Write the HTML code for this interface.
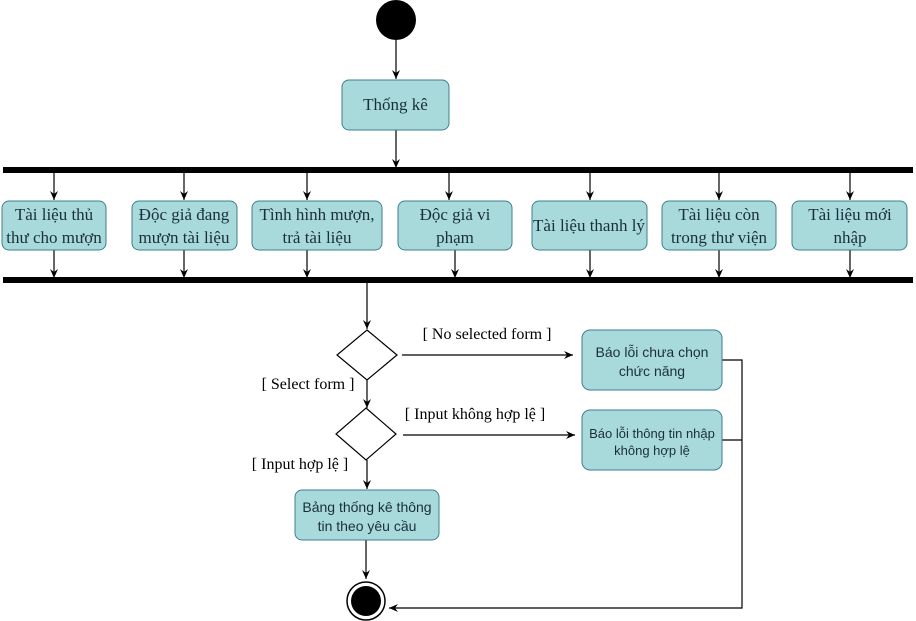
<!DOCTYPE html>
<html><head><meta charset="utf-8"><style>
html,body{margin:0;padding:0;background:#fff;}
svg{display:block}
.s{font-family:"Liberation Serif",serif;font-size:17px;fill:#1a2e3a}
.a{font-family:"Liberation Sans",sans-serif;font-size:14px;fill:#1a2e3a}
.l{font-family:"Liberation Serif",serif;font-size:16px;fill:#000}
.b{fill:#a8dadc;stroke:#3f7f8c;stroke-width:1}
</style></head><body>
<svg width="916" height="621" viewBox="0 0 916 621">
<defs><marker id="ar" markerWidth="10" markerHeight="10" refX="9" refY="5" orient="auto" markerUnits="userSpaceOnUse"><path d="M0,1 L9,5 L0,9 L3,5 Z" fill="#000"/></marker></defs>
<g stroke="#000" stroke-width="1.2" fill="none">
<line x1="396" y1="40" x2="396" y2="79" marker-end="url(#ar)"/>
<line x1="396" y1="130" x2="396" y2="168" marker-end="url(#ar)"/>
<line x1="54" y1="173" x2="54" y2="200" marker-end="url(#ar)"/>
<line x1="184" y1="173" x2="184" y2="200" marker-end="url(#ar)"/>
<line x1="307" y1="173" x2="307" y2="200" marker-end="url(#ar)"/>
<line x1="449" y1="173" x2="449" y2="200" marker-end="url(#ar)"/>
<line x1="590" y1="173" x2="590" y2="200" marker-end="url(#ar)"/>
<line x1="719" y1="173" x2="719" y2="200" marker-end="url(#ar)"/>
<line x1="850" y1="173" x2="850" y2="200" marker-end="url(#ar)"/>
<line x1="54" y1="250" x2="54" y2="278" marker-end="url(#ar)"/>
<line x1="184" y1="250" x2="184" y2="278" marker-end="url(#ar)"/>
<line x1="307" y1="250" x2="307" y2="278" marker-end="url(#ar)"/>
<line x1="455" y1="250" x2="455" y2="278" marker-end="url(#ar)"/>
<line x1="590" y1="250" x2="590" y2="278" marker-end="url(#ar)"/>
<line x1="719" y1="250" x2="719" y2="278" marker-end="url(#ar)"/>
<line x1="850" y1="250" x2="850" y2="278" marker-end="url(#ar)"/>
<line x1="367" y1="283" x2="367" y2="329" marker-end="url(#ar)"/>
<line x1="402" y1="355" x2="573" y2="355" marker-end="url(#ar)"/>
<line x1="367" y1="380" x2="367" y2="408" marker-end="url(#ar)"/>
<line x1="403" y1="435" x2="575" y2="435" marker-end="url(#ar)"/>
<line x1="367" y1="460" x2="367" y2="489" marker-end="url(#ar)"/>
<line x1="366" y1="540" x2="366" y2="579" marker-end="url(#ar)"/>
<polyline points="722,360 742,360 742,608 389,608" marker-end="url(#ar)"/>
<line x1="722" y1="440" x2="742" y2="440"/>
</g>
<circle cx="396" cy="20" r="20" fill="#000"/>
<rect x="3" y="167" width="910" height="6" fill="#000"/>
<rect x="3" y="277" width="910" height="6" fill="#000"/>
<rect class="b" x="342" y="80" width="107" height="50" rx="7"/>
<text class="s" x="395.5" y="110" text-anchor="middle">Thống kê</text>
<rect class="b" x="2" y="201" width="104" height="49" rx="7"/>
<rect class="b" x="132" y="201" width="105" height="49" rx="7"/>
<rect class="b" x="252" y="201" width="130" height="49" rx="7"/>
<rect class="b" x="398" y="201" width="114" height="49" rx="7"/>
<rect class="b" x="532" y="201" width="115" height="49" rx="7"/>
<rect class="b" x="662" y="201" width="114" height="49" rx="7"/>
<rect class="b" x="792" y="201" width="115" height="49" rx="7"/>
<g class="s" text-anchor="middle">
<text x="54" y="220">Tài liệu thủ</text><text x="54" y="243">thư cho mượn</text>
<text x="184" y="220">Độc giả đang</text><text x="184" y="243">mượn tài liệu</text>
<text x="317" y="220">Tình hình mượn,</text><text x="317" y="243">trả tài liệu</text>
<text x="455" y="220">Độc giả vi</text><text x="455" y="243">phạm</text>
<text x="589" y="231">Tài liệu thanh lý</text>
<text x="719" y="220">Tài liệu còn</text><text x="719" y="243">trong thư viện</text>
<text x="850" y="220">Tài liệu mới</text><text x="850" y="243">nhập</text>
</g>
<polygon points="367,330 397,355 367,380 337,355" fill="#fff" stroke="#000" stroke-width="1.2"/>
<polygon points="366,408 396,434 366,460 336,434" fill="#fff" stroke="#000" stroke-width="1.2"/>
<rect class="b" x="582" y="330" width="140" height="60" rx="8"/>
<rect class="b" x="582" y="410" width="140" height="60" rx="8"/>
<rect class="b" x="295" y="490" width="144" height="50" rx="7"/>
<g class="a" text-anchor="middle">
<text x="652" y="357">Báo lỗi chưa chọn</text><text x="652" y="376">chức năng</text>
<text x="652" y="438" font-size="13">Báo lỗi thông tin nhập</text><text x="652" y="455" font-size="13">không hợp lệ</text>
<text x="367" y="512">Bảng thống kê thông</text><text x="367" y="531">tin theo yêu cầu</text>
</g>
<g class="l" text-anchor="middle">
<text x="487" y="339">[ No selected form ]</text>
<text x="308" y="389">[ Select form ]</text>
<text x="475" y="419">[ Input không hợp lệ ]</text>
<text x="300" y="469">[ Input hợp lệ ]</text>
</g>
<circle cx="366" cy="601" r="19" fill="#fff" stroke="#000" stroke-width="1.5"/>
<circle cx="366" cy="601" r="15" fill="#000"/>
</svg>
</body></html>
